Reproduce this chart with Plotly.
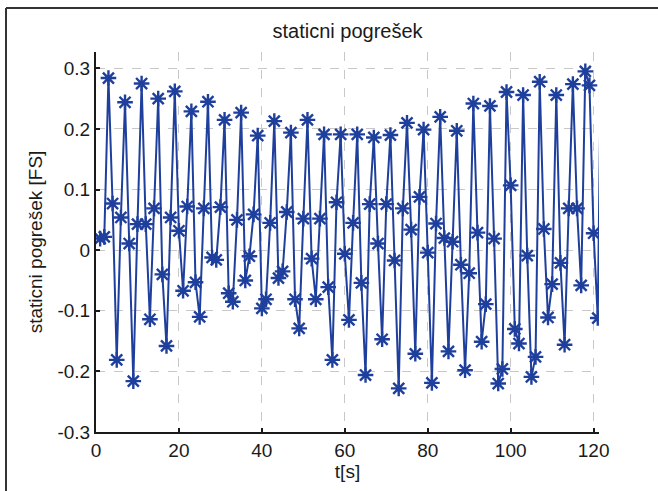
import plotly.graph_objects as go

t = list(range(1, 123))
err = [
    0.019, 0.022, 0.284, 0.077, -0.181, 0.054, 0.244, 0.011, -0.216, 0.043,
    0.275, 0.043, -0.114, 0.069, 0.250, -0.040, -0.158, 0.054, 0.262, 0.032,
    -0.067, 0.072, 0.229, -0.053, -0.110, 0.069, 0.245, -0.012, -0.016, 0.071,
    0.215, -0.071, -0.085, 0.050, 0.227, -0.050, -0.010, 0.059, 0.189, -0.096,
    -0.081, 0.045, 0.213, -0.046, -0.035, 0.063, 0.194, -0.081, -0.129, 0.052,
    0.215, -0.014, -0.081, 0.052, 0.191, -0.061, -0.181, 0.079, 0.191, -0.006,
    -0.115, 0.045, 0.191, -0.054, -0.206, 0.076, 0.186, 0.011, -0.147, 0.076,
    0.190, -0.017, -0.228, 0.069, 0.210, 0.034, -0.171, 0.088, 0.199, -0.004,
    -0.219, 0.044, 0.220, 0.020, -0.167, 0.014, 0.197, -0.024, -0.198, -0.038,
    0.242, 0.029, -0.151, -0.089, 0.238, 0.019, -0.220, -0.196, 0.261, 0.107,
    -0.130, -0.154, 0.256, -0.009, -0.209, -0.176, 0.278, 0.035, -0.111, -0.056,
    0.256, -0.021, -0.156, 0.069, 0.274, 0.069, -0.058, 0.295, 0.272, 0.028,
    -0.112, 0.45,
]

x_ticks = [0, 20, 40, 60, 80, 100, 120]
y_ticks = [-0.3, -0.2, -0.1, 0, 0.1, 0.2, 0.3]
y_tick_text = ["-0.3", "-0.2", "-0.1", "0", "0.1", "0.2", "0.3"]

title_text = "staticni pogrešek"
x_label = "t[s]"
y_label = "staticni pogrešek [FS]"

FONT = "Liberation Sans, Arial, sans-serif"
BLUE = "#1f3f9c"
TXT = "#1a1a1a"

fig = go.Figure()
fig.add_trace(go.Scatter(
    x=t, y=err, mode="lines+markers",
    line=dict(color=BLUE, width=2),
    marker=dict(symbol="asterisk-open", size=13, color=BLUE,
                line=dict(color=BLUE, width=2.4)),
    showlegend=False,
))

L, R, T, B = 96, 599, 52, 432
W, H = 658, 491

fig.update_layout(
    width=W, height=H,
    margin=dict(l=L, r=W - R, t=T, b=H - B, pad=0, autoexpand=False),
    paper_bgcolor="white", plot_bgcolor="white",
    font=dict(family=FONT, size=19, color=TXT),
    title=dict(text=title_text, x=(L + R) / 2 / W, xanchor="center",
               y=1 - 31 / H, yanchor="middle",
               font=dict(family=FONT, size=20, color=TXT)),
    xaxis=dict(
        range=[0, 121.3], tickvals=x_ticks, ticktext=[str(v) for v in x_ticks],
        ticks="inside", ticklen=4, tickwidth=2, tickcolor=TXT,
        showline=True, linecolor=TXT, linewidth=2, mirror=False,
        showgrid=True, gridcolor="#c8c8c8", griddash="dash", gridwidth=1,
        zeroline=False, automargin=False,
        title=dict(text=x_label, standoff=4,
                   font=dict(family=FONT, size=19, color=TXT)),
        tickfont=dict(family=FONT, size=19, color=TXT),
    ),
    yaxis=dict(
        range=[-0.3, 0.327], tickvals=y_ticks, ticktext=y_tick_text,
        ticks="inside", ticklen=4, tickwidth=2, tickcolor=TXT,
        showline=True, linecolor=TXT, linewidth=2, mirror=False,
        showgrid=True, gridcolor="#c8c8c8", griddash="dash", gridwidth=1,
        zeroline=False, automargin=False,
        title=dict(text=y_label, standoff=10,
                   font=dict(family=FONT, size=19, color=TXT)),
        tickfont=dict(family=FONT, size=19, color=TXT),
    ),
)

# outer frame (figure border visible on left and top)
fig.add_shape(type="line", xref="paper", yref="paper",
              x0=(6 - L) / (R - L), x1=(6 - L) / (R - L),
              y0=(B - 8) / (B - T), y1=(B - H - 5) / (B - T),
              line=dict(color="#333333", width=2))
fig.add_shape(type="line", xref="paper", yref="paper",
              x0=(6 - L) / (R - L), x1=(W + 5 - L) / (R - L),
              y0=(B - 8) / (B - T), y1=(B - 8) / (B - T),
              line=dict(color="#333333", width=2))

fig.write_html("out.html",
               config={"displayModeBar": False},
               post_script="document.body.style.margin='0';"
                           "document.body.style.overflow='hidden';")
